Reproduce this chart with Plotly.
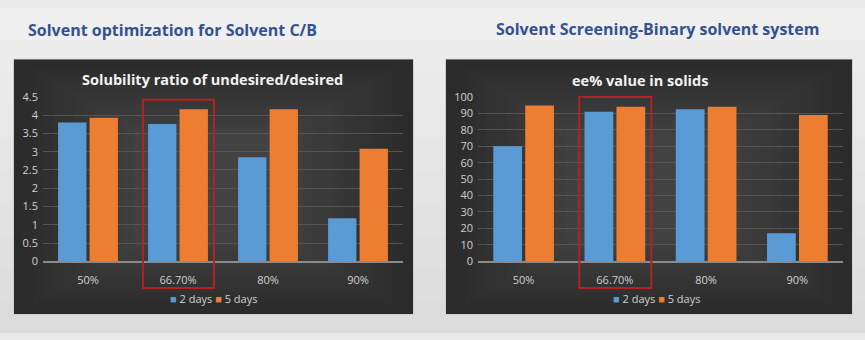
import plotly.graph_objects as go

categories = ["50%", "66.70%", "80%", "90%"]
series_names = ["2 days", "5 days"]
solubility_2d = [3.80, 3.76, 2.85, 1.18]
solubility_5d = [3.93, 4.16, 4.16, 3.08]
ee_2d = [70, 91, 92.5, 17]
ee_5d = [94.8, 94, 94, 89]
left_ticks = [0, 0.5, 1, 1.5, 2, 2.5, 3, 3.5, 4, 4.5]
right_ticks = list(range(0, 101, 10))

BLUE = "#5b9bd5"
ORANGE = "#ed7d31"
W, H = 865, 340

fig = go.Figure()
fig.add_bar(x=categories, y=solubility_2d, name=series_names[0], marker_color=BLUE,
            marker_line_width=0, xaxis="x", yaxis="y")
fig.add_bar(x=categories, y=solubility_5d, name=series_names[1], marker_color=ORANGE,
            marker_line_width=0, xaxis="x", yaxis="y")
fig.add_bar(x=categories, y=ee_2d, name=series_names[0], marker_color=BLUE,
            marker_line_width=0, xaxis="x2", yaxis="y2")
fig.add_bar(x=categories, y=ee_5d, name=series_names[1], marker_color=ORANGE,
            marker_line_width=0, xaxis="x2", yaxis="y2")

def px(x):
    return x / W

def py(y):
    return 1 - y / H

shapes = []
# page background gradient (top light, bottom slightly darker)
n_bg = 10
for i in range(n_bg):
    v = int(0xef - (0xef - 0xdc) * i / (n_bg - 1))
    c = f"#{v:02x}{v:02x}{v:02x}"
    shapes.append(dict(type="rect", xref="paper", yref="paper", layer="below",
                       x0=0, x1=1, y0=py(H * (i + 1) / n_bg), y1=py(H * i / n_bg),
                       fillcolor=c, line_width=0))
# panels with pseudo radial gradient
panel_boxes = [(14, 54, 413, 320), (446, 54, 852, 320)]
n_p = 14
for (x0, y0, x1, y1) in panel_boxes:
    shapes.append(dict(type="rect", xref="paper", yref="paper", layer="below",
                       x0=px(x0 - 1), x1=px(x1 + 1), y0=py(y1 + 1), y1=py(y0 - 1),
                       fillcolor="#cfcfcf", line_width=0))
    for i in range(n_p):
        v = int(0x2b + (0x42 - 0x2b) * i / (n_p - 1))
        c = f"#{v:02x}{v:02x}{v:02x}"
        dx = i * 10
        dy = i * 6
        shapes.append(dict(type="rect", xref="paper", yref="paper", layer="below",
                           x0=px(x0 + dx), x1=px(x1 - dx), y0=py(y1 - dy), y1=py(y0 + dy),
                           fillcolor=c, line_width=0))

# red highlight boxes around the 66.70% category
shapes.append(dict(type="rect", xref="x", yref="paper", x0=0.61, x1=1.40,
                   y0=py(293), y1=py(96), line=dict(color="#b22222", width=2)))
shapes.append(dict(type="rect", xref="x2", yref="paper", x0=0.61, x1=1.40,
                   y0=py(293), y1=py(93), line=dict(color="#b22222", width=2)))

title_font = dict(family="Open Sans", size=16, color="#34528f")
chart_title_font = dict(family="Open Sans", size=14.5, color="#f2f2f2")
legend_font = dict(family="Open Sans", size=11, color="#d0d0d0")

def ann(text, x, y, font):
    return dict(text=text, x=px(x), y=py(y), xref="paper", yref="paper", showarrow=False,
                xanchor="center", yanchor="middle", font=font)

legend_text = (f"<span style='color:{BLUE}'>■</span> {series_names[0]} "
               f"<span style='color:{ORANGE}'>■</span> {series_names[1]}")

annotations = [
    ann("<b>Solvent optimization for Solvent C/B</b>", 172, 23, title_font),
    ann("<b>Solvent Screening-Binary solvent system</b>", 657, 22, title_font),
    ann("<b>Solubility ratio of undesired/desired</b>", 212, 75, chart_title_font),
    ann("<b>ee% value in solids</b>", 640, 76, chart_title_font),
    ann(legend_text, 213, 304, legend_font),
    ann(legend_text, 656, 304, legend_font),
]

tick_font = dict(family="Open Sans", size=11, color="#d0d0d0")
axis_common = dict(showgrid=True, gridcolor="#555555", gridwidth=1, zeroline=False,
                   tickfont=tick_font, ticks="", showline=False, ticklabelstandoff=4)
xcommon = dict(showgrid=False, tickfont=tick_font, ticks="", showline=True,
               linecolor="#8a8a8a", linewidth=1.5, zeroline=False, ticklabelstandoff=8)

fig.update_layout(
    width=W, height=H, margin=dict(l=0, r=0, t=0, b=0),
    paper_bgcolor="#e8e8e8", plot_bgcolor="rgba(0,0,0,0)",
    barmode="group", bargap=0.3, bargroupgap=0.1, showlegend=False,
    xaxis=dict(domain=[px(43), px(403)], anchor="y", **xcommon),
    yaxis=dict(domain=[py(265), py(93)], anchor="x", range=[0, 4.5],
               tickvals=left_ticks, ticktext=[f"{t:g}" for t in left_ticks], **axis_common),
    xaxis2=dict(domain=[px(478), px(843)], anchor="y2", **xcommon),
    yaxis2=dict(domain=[py(265), py(93)], anchor="x2", range=[0, 100],
                tickvals=right_ticks, **axis_common),
    shapes=shapes, annotations=annotations,
)

fig.write_html("out.html")
